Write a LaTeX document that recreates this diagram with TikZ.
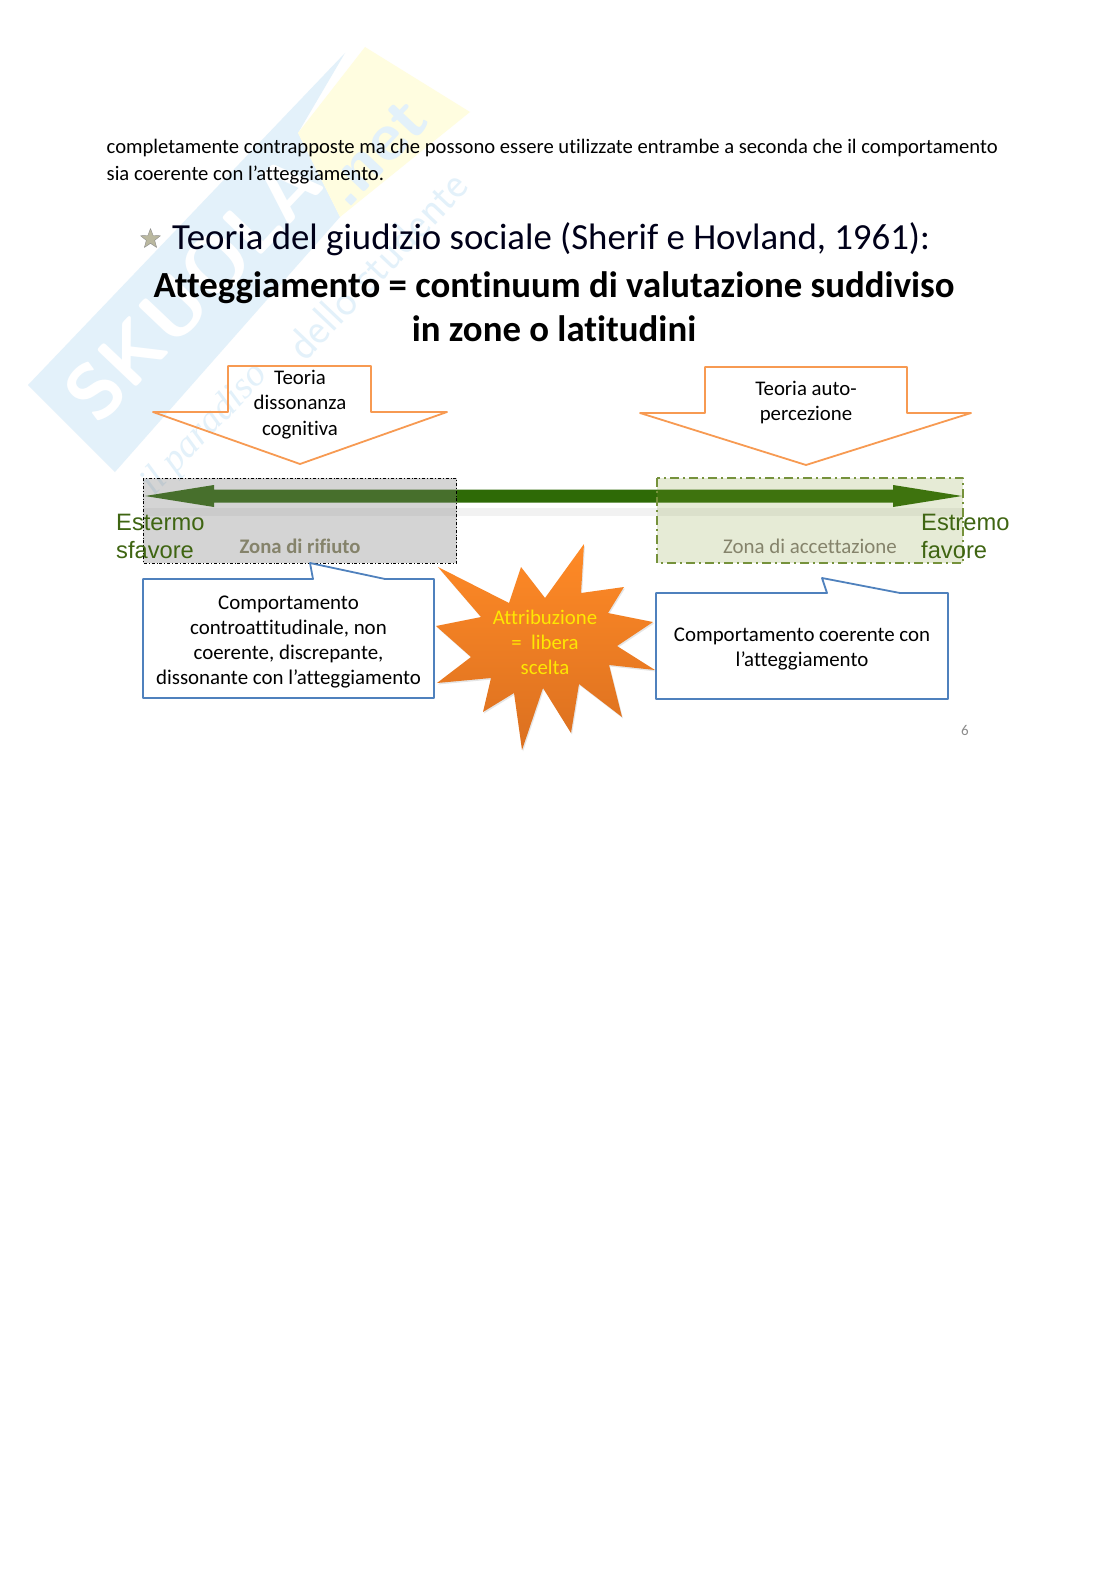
\documentclass[tikz,border=0pt]{standalone}
\usepackage{fontspec}
\setmainfont{Carlito}[Ligatures=NoCommon]
\newfontfamily\estremofont{Liberation Sans}
\newfontfamily\markfont{Liberation Serif}
\usetikzlibrary{shapes.geometric,shadows}
\definecolor{orangeline}{HTML}{F79A52}
\definecolor{blueline}{HTML}{4F81BD}
\definecolor{darkgreen}{HTML}{2E6A06}
\definecolor{textgreen}{HTML}{3F6512}
\definecolor{markblue}{HTML}{E3F1FA}
\definecolor{markyellow}{HTML}{FFFDE0}
\definecolor{zonegrey}{RGB}{123,123,123}
\definecolor{zoneolive}{RGB}{130,155,50}
\definecolor{zoneline}{HTML}{76923C}
\definecolor{zonetext}{HTML}{85836B}
\definecolor{startop}{HTML}{FF8A26}
\definecolor{starbottom}{HTML}{DB7020}
\begin{document}
\begin{tikzpicture}[x=1pt,y=-1pt,line join=round]
	\tikzset{
		every node/.style={inner sep=0pt,align=center},
		bodytext/.style={anchor=base west,font=\fontsize{20.62}{25}\selectfont},
		arrowtext/.style={font=\fontsize{20.8}{25.3}\selectfont},
		callouttext/.style={font=\fontsize{20.9}{25.3}\selectfont},
		estremotext/.style={anchor=west,align=left,text=textgreen,font=\estremofont\fontsize{23.7}{28.5}\selectfont},
		downarrow/.style={draw=orangeline,line width=1.8pt},
		callout/.style={draw=blueline,line width=1.8pt},
		marktext/.style={text=white,rotate=46.5}
	}
	\useasboundingbox (0,0) rectangle (1118,1579);
	\fill[white] (0,0) rectangle (1118,1579);
	\fill[markblue] (28,385)--(345,53)--(298,133)--(340,217)--(115,472)--cycle;
	\fill[markyellow] (365,47)--(470,112)--(340,217)--(298,133)--cycle;
	\node[marktext,font=\sffamily\bfseries\fontsize{78}{78}\selectfont] (markname) at (193,288) {SKUOLA};
	\node[marktext,text=markblue,font=\sffamily\bfseries\fontsize{68}{68}\selectfont] (markext) at (375,153) {.net};
	\node[marktext,text=markblue,font=\markfont\itshape\fontsize{38}{38}\selectfont] (markslogan) at (205,430) {il paradiso};
	\node[marktext,text=markblue,font=\sffamily\fontsize{44}{44}\selectfont] (markstudent) at (377,265) {dello studente};
	\node[bodytext] (introa) at (106.5,153) {completamente contrapposte ma che possono essere utilizzate entrambe a seconda che il comportamento};
	\node[bodytext] (introb) at (106.5,180) {sia coerente con l’atteggiamento.};
	\node[star,star points=5,star point ratio=2.4,minimum size=21pt,fill=black!32!yellow!30!gray!70,draw=black!45] (bullet) at (150.5,239) {};
	\node[anchor=base west,font=\fontsize{36.8}{36.8}\selectfont,text=black!90!blue] (title) at (172,249) {Teoria del giudizio sociale (Sherif e Hovland, 1961):};
	\node[anchor=base,font=\bfseries\fontsize{36.8}{36.8}\selectfont] (subtitlea) at (554,297.5) {Atteggiamento = continuum di valutazione suddiviso};
	\node[anchor=base,font=\bfseries\fontsize{36.8}{36.8}\selectfont] (subtitleb) at (554,341.5) {in zone o latitudini};
	\draw[downarrow] (228,366)--(371,366)--(371,412)--(447,412)--(300,464)--(153,412)--(228,412)--cycle;
	\draw[downarrow] (705,367)--(907,367)--(907,413)--(971,413)--(806,465)--(640,413)--(705,413)--cycle;
	\node[arrowtext] (dissonanza) at (300,404.5) {Teoria\\dissonanza\\cognitiva};
	\node[arrowtext] (autopercezione) at (806,402.5) {Teoria auto-\\percezione};
	\fill[black!5] (143,508) rectangle (963,516);
	\fill[darkgreen] (145,496)--(214,485)--(214,489.5)--(893,489.5)--(893,485)--(962,496)--(893,507)--(893,502.5)--(214,502.5)--(214,507)--cycle;
	\fill[zonegrey,opacity=.325] (143,478) rectangle (456.5,563);
	\fill[zoneolive,opacity=.2] (657,478) rectangle (963,563);
	\draw[line width=.8pt,dash dot] (143,478) rectangle (456.5,563);
	\draw[zoneline,line width=1.8pt,dash pattern=on 9pt off 4pt on 2pt off 4pt] (657,478) rectangle (963,563);
	\node[font=\bfseries\fontsize{20.7}{20.7}\selectfont,text=zonetext] (rifiuto) at (300,546) {Zona di rifiuto};
	\node[font=\fontsize{20.9}{20.9}\selectfont,text=zonetext] (accettazione) at (810,546) {Zona di accettazione};
	\node[estremotext] (sfavore) at (116,536.5) {Estermo\\sfavore};
	\node[estremotext] (favore) at (921,536.5) {Estremo\\favore};
	\draw[callout] (143,579)--(313,579)--(310,563)--(385,579)--(434,579)--(434,698)--(143,698)--cycle;
	\draw[callout] (656,593)--(827,593)--(822,578)--(900,593)--(948,593)--(948,699)--(656,699)--cycle;
	\node[callouttext] (controatt) at (288.5,642) {Comportamento\\controattitudinale, non\\coerente, discrepante,\\dissonante con l’atteggiamento};
	\node[callouttext] (coerente) at (802,649) {Comportamento coerente con\\l’atteggiamento};
	\shade[top color=startop,bottom color=starbottom,drop shadow={shadow xshift=1pt,shadow yshift=-1.5pt,opacity=.2}]
		(584,544)--(581,593)--(624,587)--(608,613)--(653,622)--(617,646)--(655,670)--(609,665)--(622,717)--(579,684)--(571,733)--(543,688)--(522,750)--(514,693)--(483,712)--(491,678)--(437,683)--(471,657)--(436,626)--(481,617)--(438,567)--(509,603)--(521,567)--(545,598)--cycle;
	\node[font=\fontsize{20.8}{25}\selectfont,text=yellow!90!orange] (attribuzione) at (545,642) {Attribuzione\\=\ \ libera\\scelta};
	\node[font=\fontsize{15}{15}\selectfont,text=black!45] (pagenum) at (965,730) {6};
\end{tikzpicture}
\end{document}
